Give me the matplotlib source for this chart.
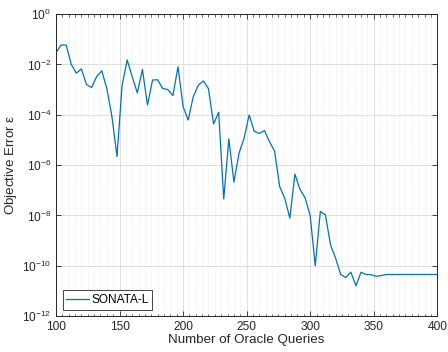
import matplotlib
matplotlib.use("Agg")
import matplotlib.pyplot as plt
import numpy as np
from matplotlib.ticker import MultipleLocator, FixedLocator, NullLocator

plt.rcParams["font.family"] = ["Liberation Sans", "DejaVu Sans"]
plt.rcParams["mathtext.default"] = "regular"

# Oracle-Abfragen (Schrittweite 4) und Fehlerwerte
queries = np.arange(100, 401, 4)
error = [
    2.95e-2, 5.9e-2, 5.9e-2, 1.0e-2, 4.5e-3, 6.6e-3, 1.6e-3, 1.2e-3, 3.3e-3, 5.6e-3,
    1.1e-3, 8.5e-5, 2.2e-6, 1.45e-3, 1.5e-2, 3.2e-3, 7.4e-4, 6.3e-3, 2.45e-4, 2.4e-3,
    2.45e-3, 1.1e-3, 1.0e-3, 5.8e-4, 8.1e-3, 2.1e-4, 6.2e-5, 5.2e-4, 1.5e-3, 2.2e-3,
    1.07e-3, 4.3e-5, 1.26e-4, 4.5e-8, 1.1e-5, 2.1e-7, 2.95e-6, 1.17e-5, 9.8e-5, 2.2e-5,
    1.8e-5, 2.35e-5, 8.5e-6, 3.6e-6, 1.4e-7, 4.8e-8, 7.8e-9, 4.4e-7, 1.07e-7, 5.0e-8,
    9.8e-9, 1.0e-10, 1.45e-8, 1.05e-8, 6.8e-10, 2.0e-10, 4.5e-11, 3.4e-11, 5.6e-11, 1.6e-11,
    5.5e-11, 4.5e-11, 4.4e-11, 3.8e-11, 4.1e-11, 4.5e-11, 4.5e-11, 4.5e-11, 4.5e-11, 4.5e-11,
    4.5e-11, 4.5e-11, 4.5e-11, 4.5e-11, 4.5e-11, 4.5e-11,
]
y_exponents = [-12, -10, -8, -6, -4, -2, 0]

fig = plt.figure(figsize=(4.48, 3.52), dpi=100)
ax = fig.add_axes([0.125, 0.102, 0.851, 0.858])

ax.plot(queries, error, color="#0072BD", lw=0.9, label="SONATA-L")
ax.set_yscale("log")
ax.set_xlim(100, 400)
ax.set_ylim(1e-12, 1e0)

ax.xaxis.set_major_locator(MultipleLocator(50))
ax.xaxis.set_minor_locator(MultipleLocator(5))
ax.yaxis.set_major_locator(FixedLocator([10.0 ** e for e in y_exponents]))
ax.yaxis.set_minor_locator(NullLocator())
ax.set_yticklabels([f"$10^{{{e}}}$" for e in y_exponents])

ax.grid(True, which="major", color="#dedede", lw=0.7)
ax.grid(True, which="minor", axis="x", color="#e2e2e2", lw=0.6, ls=(0, (1, 2)))
ax.set_axisbelow(True)

ax.tick_params(which="both", direction="in", top=True, right=True,
               colors="#262626", labelsize=8.6, labelcolor="#262626")
ax.tick_params(which="major", length=3.5, width=0.6)
ax.tick_params(which="minor", length=1.8, width=0.5)
for s in ax.spines.values():
    s.set_color("#262626")
    s.set_linewidth(0.7)

ax.set_xlabel("Number of Oracle Queries", fontsize=9.6, color="#262626", labelpad=1)
ax.set_ylabel(r"Objective Error $\epsilon$", fontsize=9.6, color="#262626", labelpad=2)

leg = ax.legend(loc="lower left", fontsize=8.6, fancybox=False, framealpha=1,
                edgecolor="#262626", borderpad=0.3, handlelength=1.9,
                handletextpad=0.2, borderaxespad=0.55)
leg.get_frame().set_linewidth(0.6)

fig.savefig("out.png", dpi=100)
